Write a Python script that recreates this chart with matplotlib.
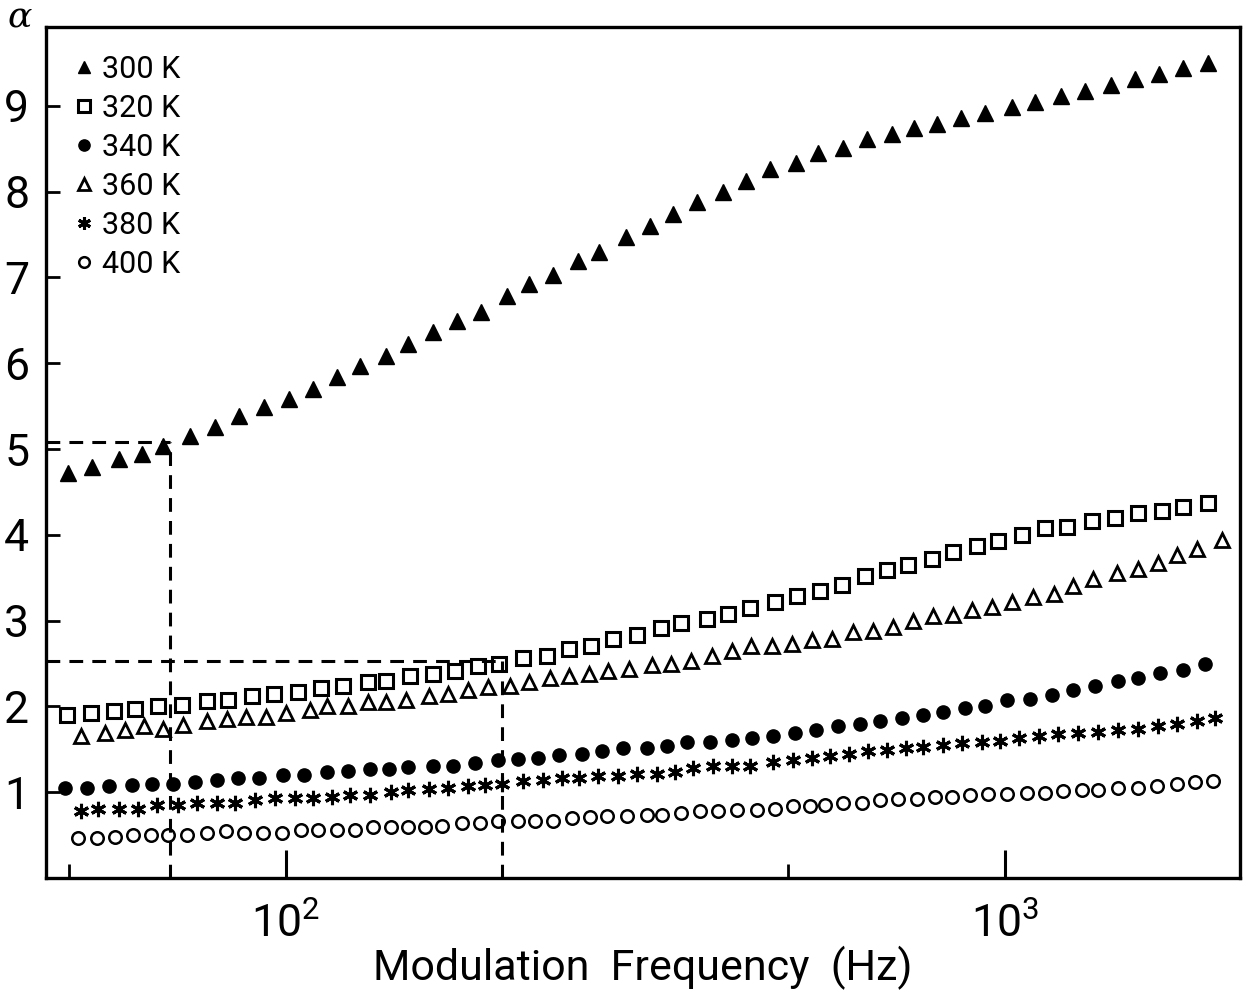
import matplotlib
matplotlib.use("Agg")
import matplotlib.pyplot as plt
from matplotlib.ticker import FixedLocator, FixedFormatter, NullFormatter

plt.rcParams['font.family'] = ['Roboto', 'DejaVu Sans']

# ---------------- data ----------------
f_300 = [49.8, 53.7, 58.6, 63.1, 67.4, 73.5, 79.7, 86.0, 93.2, 101, 109, 118, 127, 138,
         148, 160, 173, 187, 203, 218, 235, 255, 273, 297, 321, 346, 373, 405, 436, 471,
         512, 549, 595, 643, 696, 747, 804, 869, 938, 1023, 1101, 1196, 1292, 1404, 1516,
         1638, 1769, 1916]
a_300 = [4.72, 4.79, 4.88, 4.94, 5.03, 5.15, 5.26, 5.38, 5.49, 5.58, 5.70, 5.84, 5.97, 6.08,
         6.22, 6.36, 6.49, 6.60, 6.78, 6.92, 7.03, 7.19, 7.30, 7.47, 7.60, 7.74, 7.88, 8.00,
         8.12, 8.26, 8.34, 8.45, 8.51, 8.62, 8.67, 8.74, 8.79, 8.86, 8.92, 8.99, 9.05, 9.12,
         9.17, 9.24, 9.31, 9.37, 9.44, 9.50]

f_320 = [49.6, 53.6, 57.6, 61.7, 66.4, 71.7, 77.6, 83.1, 89.7, 96.2, 104, 112, 120, 130,
         138, 149, 160, 172, 185, 198, 214, 231, 248, 266, 285, 308, 333, 355, 385, 412,
         442, 479, 514, 553, 593, 639, 685, 733, 792, 847, 914, 978, 1056, 1137, 1220,
         1321, 1422, 1531, 1653, 1769, 1916]
a_320 = [1.90, 1.92, 1.95, 1.97, 2.00, 2.02, 2.06, 2.07, 2.12, 2.14, 2.17, 2.21, 2.24, 2.28,
         2.30, 2.35, 2.38, 2.41, 2.47, 2.50, 2.56, 2.59, 2.67, 2.70, 2.79, 2.83, 2.91, 2.97,
         3.02, 3.08, 3.15, 3.22, 3.29, 3.35, 3.42, 3.52, 3.59, 3.65, 3.72, 3.80, 3.87, 3.93,
         4.00, 4.08, 4.09, 4.16, 4.20, 4.25, 4.28, 4.33, 4.37]

f_340 = [49.3, 52.9, 56.7, 61.1, 65.1, 69.6, 74.7, 80.2, 85.8, 91.7, 99.0, 106, 114, 122,
         131, 139, 148, 160, 171, 183, 197, 210, 224, 240, 258, 275, 294, 318, 339, 361,
         389, 417, 445, 476, 510, 546, 586, 629, 670, 719, 769, 820, 880, 938, 1006, 1083,
         1162, 1243, 1334, 1436, 1531, 1643, 1769, 1898]
a_340 = [1.05, 1.05, 1.07, 1.08, 1.09, 1.10, 1.12, 1.14, 1.16, 1.17, 1.20, 1.20, 1.24, 1.25,
         1.27, 1.27, 1.29, 1.30, 1.31, 1.34, 1.37, 1.39, 1.40, 1.43, 1.45, 1.48, 1.51, 1.52,
         1.54, 1.58, 1.59, 1.61, 1.63, 1.66, 1.69, 1.72, 1.77, 1.80, 1.83, 1.86, 1.90, 1.94,
         1.98, 2.01, 2.07, 2.09, 2.13, 2.19, 2.24, 2.30, 2.33, 2.39, 2.42, 2.50]

f_360 = [51.9, 56.0, 59.7, 63.5, 67.4, 71.9, 77.6, 82.8, 88.0, 93.8, 100, 108, 114, 122,
         130, 138, 147, 158, 168, 179, 191, 205, 218, 233, 248, 264, 281, 300, 323, 343,
         366, 391, 417, 443, 474, 506, 539, 575, 615, 655, 699, 745, 794, 847, 900, 959,
         1023, 1094, 1170, 1243, 1326, 1431, 1531, 1632, 1735, 1850, 2004]
a_360 = [1.66, 1.69, 1.72, 1.77, 1.74, 1.78, 1.83, 1.85, 1.88, 1.88, 1.92, 1.96, 2.00, 2.01,
         2.05, 2.05, 2.07, 2.12, 2.15, 2.19, 2.23, 2.24, 2.28, 2.33, 2.36, 2.38, 2.41, 2.44,
         2.48, 2.50, 2.53, 2.59, 2.65, 2.70, 2.71, 2.73, 2.77, 2.79, 2.87, 2.88, 2.93, 2.99,
         3.05, 3.06, 3.12, 3.16, 3.22, 3.28, 3.31, 3.40, 3.49, 3.55, 3.60, 3.67, 3.77, 3.84,
         3.94]

f_380 = [51.9, 54.8, 58.6, 62.3, 66.2, 70.8, 75.2, 80.2, 84.9, 90.5, 96.5, 103, 109, 116,
         123, 131, 140, 148, 158, 168, 179, 189, 200, 214, 228, 242, 256, 272, 290, 308,
         328, 348, 368, 393, 417, 442, 476, 507, 539, 571, 607, 645, 685, 728, 769, 820,
         871, 929, 984, 1046, 1115, 1185, 1264, 1347, 1436, 1531, 1632, 1735, 1850, 1959]
a_380 = [0.78, 0.80, 0.80, 0.81, 0.85, 0.85, 0.87, 0.87, 0.88, 0.91, 0.93, 0.93, 0.93, 0.95,
         0.97, 0.97, 1.00, 1.02, 1.04, 1.05, 1.07, 1.08, 1.10, 1.13, 1.14, 1.16, 1.16, 1.19,
         1.19, 1.21, 1.21, 1.24, 1.28, 1.30, 1.30, 1.31, 1.35, 1.37, 1.40, 1.42, 1.45, 1.48,
         1.49, 1.51, 1.53, 1.55, 1.57, 1.59, 1.60, 1.63, 1.66, 1.68, 1.69, 1.70, 1.72, 1.74,
         1.77, 1.79, 1.83, 1.86]

f_400 = [51.4, 54.6, 57.8, 61.3, 64.9, 68.5, 72.8, 77.6, 82.5, 87.4, 92.9, 98.7, 105, 111,
         118, 125, 132, 140, 148, 156, 165, 176, 186, 197, 210, 222, 235, 250, 265, 280,
         298, 318, 334, 355, 377, 399, 424, 452, 479, 507, 536, 562, 595, 633, 670, 710,
         754, 799, 844, 894, 947, 1006, 1073, 1137, 1204, 1280, 1347, 1436, 1531, 1627,
         1735, 1838, 1947]
a_400 = [0.47, 0.47, 0.48, 0.50, 0.50, 0.50, 0.50, 0.52, 0.55, 0.53, 0.53, 0.53, 0.56, 0.56,
         0.56, 0.56, 0.60, 0.59, 0.59, 0.60, 0.61, 0.64, 0.64, 0.66, 0.66, 0.66, 0.67, 0.70,
         0.71, 0.72, 0.72, 0.73, 0.73, 0.76, 0.78, 0.78, 0.79, 0.79, 0.81, 0.84, 0.84, 0.85,
         0.88, 0.88, 0.91, 0.92, 0.92, 0.95, 0.95, 0.97, 0.98, 0.98, 0.99, 0.99, 1.01, 1.02,
         1.02, 1.05, 1.05, 1.07, 1.10, 1.12, 1.13]

labels = ['300 K', '320 K', '340 K', '360 K', '380 K', '400 K']

# guide (dashed) lines: frequency / alpha pairs
guide_f = [69.0, 200.0]
guide_a = [5.08, 2.53]

x_ticks_major = [100, 1000]
x_ticklabels = [r'$\mathregular{10^{2}}$', r'$\mathregular{10^{3}}$']
x_ticks_minor = [50, 500]
y_ticks = [1, 2, 3, 4, 5, 6, 7, 8, 9]

# ---------------- figure ----------------
fig = plt.figure(figsize=(12.43, 9.94), dpi=100)
ax = fig.add_axes([46 / 1243, 116 / 994, 1194 / 1243, 851 / 994])
ax.set_xscale('log')
xmin, xmax = 46.4, 2123
ax.set_xlim(xmin, xmax)
ax.set_ylim(0, 9.92)

k = 'black'
ax.plot(f_300, a_300, linestyle='none', marker='^', ms=11, mfc=k, mec=k, mew=1, label=labels[0])
ax.plot(f_320, a_320, linestyle='none', marker='s', ms=10.5, mfc='none', mec=k, mew=2.2, label=labels[1])
ax.plot(f_340, a_340, linestyle='none', marker='o', ms=9.5, mfc=k, mec=k, mew=1, label=labels[2])
ax.plot(f_360, a_360, linestyle='none', marker='^', ms=9.5, mfc='none', mec=k, mew=2.0, label=labels[3])
ax.plot(f_380, a_380, linestyle='none', marker=(6, 2, 0), ms=11, mfc=k, mec=k, mew=2.2, label=labels[4])
ax.plot(f_400, a_400, linestyle='none', marker='o', ms=9, mfc='none', mec=k, mew=1.8, label=labels[5])

# dashed guide lines
for gf, ga in zip(guide_f, guide_a):
    ax.plot([xmin, gf], [ga, ga], color=k, lw=2.2, ls=(0, (4.5, 3)))
    ax.plot([gf, gf], [0, ga], color=k, lw=2.2, ls=(0, (4.5, 3)))

# spines and ticks
for s in ax.spines.values():
    s.set_linewidth(2.4)
ax.xaxis.set_major_locator(FixedLocator(x_ticks_major))
ax.xaxis.set_major_formatter(FixedFormatter(x_ticklabels))
ax.xaxis.set_minor_locator(FixedLocator(x_ticks_minor))
ax.xaxis.set_minor_formatter(NullFormatter())
ax.set_yticks(y_ticks)
ax.set_yticklabels([str(v) for v in y_ticks])
ax.tick_params(axis='x', which='major', direction='in', length=20, width=2.2,
               labelsize=32, pad=18)
ax.tick_params(axis='x', which='minor', direction='in', length=10, width=2.0)
ax.tick_params(axis='y', which='major', direction='in', length=10, width=2.0,
               labelsize=32, pad=12)
ax.tick_params(top=False, right=False)

ax.set_xlabel('Modulation  Frequency  (Hz)', fontsize=31, labelpad=0)
fig.text(0.016, 0.982, 'α', fontsize=26, fontstyle='italic', family='DejaVu Serif',
         ha='center', va='center')

leg = ax.legend(loc='upper left', bbox_to_anchor=(0.014, 0.982), frameon=False,
                fontsize=22, handlelength=0.6, handletextpad=0.3, labelspacing=0.33,
                borderaxespad=0, numpoints=1, markerscale=0.85)

fig.savefig('out.png', dpi=100)
